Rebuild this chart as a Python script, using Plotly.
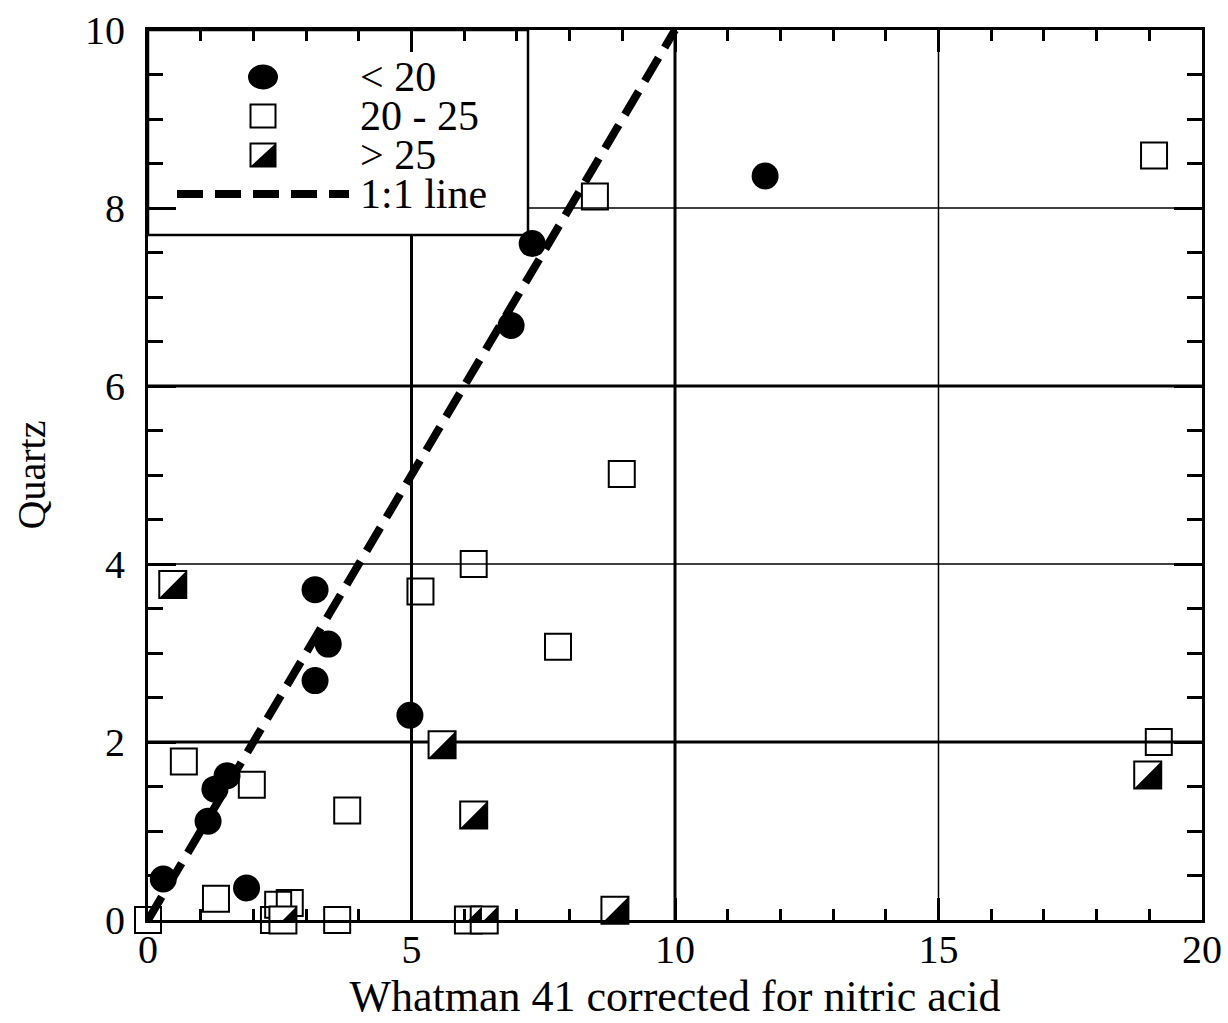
import plotly.graph_objects as go

# ---- data: Quartz vs. Whatman 41 (corrected for nitric acid) ----
lt20_x = [0.29, 1.14, 1.27, 1.50, 1.87, 3.17, 3.17, 3.42, 4.97, 6.89, 7.29, 11.71]
lt20_y = [0.46, 1.11, 1.47, 1.62, 0.36, 3.71, 2.69, 3.10, 2.30, 6.68, 7.60, 8.36]

mid_x = [0.00, 0.68, 1.29, 1.97, 2.39, 2.47, 2.69, 3.59, 3.78, 5.17, 6.18, 7.78, 8.48, 8.99, 19.09, 19.18]
mid_y = [0.00, 1.78, 0.24, 1.52, 0.00, 0.17, 0.19, 0.00, 1.23, 3.69, 4.00, 3.07, 8.13, 5.01, 8.59, 2.00]

gt25_x = [0.47, 2.56, 5.58, 6.08, 6.18, 6.38, 8.86, 18.97]
gt25_y = [3.77, 0.00, 1.97, 0.00, 1.18, 0.00, 0.11, 1.63]

one_to_one = [0, 10]

x_range = [0, 20]
y_range = [0, 10]
x_ticks = [0, 5, 10, 15, 20]
y_ticks = [0, 2, 4, 6, 8, 10]
x_grid = [5, 10, 15]
x_grid_w = [3, 3, 1.5]
y_grid = [2, 4, 6, 8]
y_grid_w = [3, 1.5, 3, 1.5]

legend_labels = ["&lt; 20", "20 - 25", "&gt; 25", "1:1 line"]

# ---- layout geometry ----
FONT = "Liberation Serif, Times New Roman, serif"
W, H = 1228, 1023
ML, MR, MT, MB = 148, 26, 30, 103
PW, PH = W - ML - MR, H - MT - MB


def fx(p):
    """pixel column -> paper x"""
    return (p - ML) / PW


def fy(p):
    """pixel row -> paper y"""
    return (H - MB - p) / PH


fig = go.Figure()

fig.add_trace(go.Scatter(
    x=lt20_x, y=lt20_y, mode="markers", name="< 20",
    marker=dict(symbol="circle", size=27, color="black", line=dict(width=0)),
    cliponaxis=False, showlegend=False))

fig.add_trace(go.Scatter(
    x=mid_x, y=mid_y, mode="markers", name="20 - 25",
    marker=dict(symbol="square-open", size=26, color="black", line=dict(width=2)),
    cliponaxis=False, showlegend=False))

fig.add_trace(go.Scatter(
    x=gt25_x, y=gt25_y, mode="markers", name="> 25",
    marker=dict(symbol="square", size=27, color="white",
                line=dict(width=2, color="black")),
    cliponaxis=False, showlegend=False))

fig.add_trace(go.Scatter(
    x=one_to_one, y=one_to_one, mode="lines", name="1:1 line",
    line=dict(color="black", width=8, dash="27px,12px"),
    cliponaxis=False, showlegend=False))

shapes = []
# grid lines at the major ticks
for v, w in zip(x_grid, x_grid_w):
    shapes.append(dict(type="line", xref="x", yref="paper", x0=v, x1=v, y0=0, y1=1,
                       line=dict(color="black", width=w), layer="between"))
for v, w in zip(y_grid, y_grid_w):
    shapes.append(dict(type="line", xref="paper", yref="y", x0=0, x1=1, y0=v, y1=v,
                       line=dict(color="black", width=w), layer="between"))

# lower-right black half of the "> 25" squares
HS = 13.5
tri = f"M {-HS} {-HS} L {HS} {-HS} L {HS} {HS} Z"
for x, y in zip(gt25_x, gt25_y):
    shapes.append(dict(type="path", xref="x", yref="y", xsizemode="pixel", ysizemode="pixel",
                       xanchor=x, yanchor=y, path=tri, fillcolor="black",
                       line=dict(width=0), layer="above"))

# legend box
shapes.append(dict(type="rect", xref="paper", yref="paper",
                   x0=fx(148), x1=fx(528), y0=fy(235), y1=fy(30),
                   fillcolor="white", line=dict(color="black", width=2.5), layer="between"))

sym_x = fx(263)
rows = [77, 116, 155, 194]
# circle
shapes.append(dict(type="circle", xref="paper", yref="paper", xsizemode="pixel", ysizemode="pixel",
                   xanchor=sym_x, yanchor=fy(rows[0]), x0=-15, x1=15, y0=-12.5, y1=12.5,
                   fillcolor="black", line=dict(width=0), layer="above"))
# open square
shapes.append(dict(type="rect", xref="paper", yref="paper", xsizemode="pixel", ysizemode="pixel",
                   xanchor=sym_x, yanchor=fy(rows[1]), x0=-12.5, x1=12.5, y0=-11.5, y1=11.5,
                   fillcolor="rgba(0,0,0,0)", line=dict(width=2, color="black"), layer="above"))
# half-filled square
shapes.append(dict(type="rect", xref="paper", yref="paper", xsizemode="pixel", ysizemode="pixel",
                   xanchor=sym_x, yanchor=fy(rows[2]), x0=-12.5, x1=12.5, y0=-11.5, y1=11.5,
                   fillcolor="white", line=dict(width=2, color="black"), layer="above"))
shapes.append(dict(type="path", xref="paper", yref="paper", xsizemode="pixel", ysizemode="pixel",
                   xanchor=sym_x, yanchor=fy(rows[2]), path="M -12.5 -11.5 L 12.5 -11.5 L 12.5 11.5 Z",
                   fillcolor="black", line=dict(width=0), layer="above"))
# dashed line sample
shapes.append(dict(type="line", xref="paper", yref="paper",
                   x0=fx(177), x1=fx(349), y0=fy(rows[3]), y1=fy(rows[3]),
                   line=dict(color="black", width=8, dash="26px,12px"), layer="above"))

annotations = []
for lab, r in zip(legend_labels, rows):
    annotations.append(dict(text=lab, xref="paper", yref="paper", x=fx(358), y=fy(r),
                            xanchor="left", yanchor="middle", showarrow=False,
                            font=dict(family=FONT, size=42, color="black")))

axis_common = dict(
    showline=True, linewidth=3, linecolor="black", mirror="allticks",
    ticks="inside", tickwidth=3, tickcolor="black",
    showgrid=False, zeroline=False,
    tickfont=dict(family=FONT, size=40, color="black"),
)

fig.update_xaxes(range=x_range, tickvals=x_ticks, ticklen=22, ticklabelstandoff=-8,
                 minor=dict(dtick=1, ticklen=11, tickwidth=3, tickcolor="black", ticks="inside"),
                 title=dict(text="Whatman 41 corrected for nitric acid",
                            font=dict(family=FONT, size=44, color="black"), standoff=8),
                 **axis_common)
fig.update_yaxes(range=y_range, tickvals=y_ticks, ticklen=28,
                 minor=dict(dtick=0.5, ticklen=15, tickwidth=3, tickcolor="black", ticks="inside"),
                 ticklabelstandoff=12,
                 title=dict(text="Quartz", font=dict(family=FONT, size=40, color="black"),
                            standoff=28),
                 **axis_common)

fig.update_layout(
    width=W, height=H,
    margin=dict(l=ML, r=MR, t=MT, b=MB, autoexpand=False),
    paper_bgcolor="white", plot_bgcolor="white",
    shapes=shapes, annotations=annotations,
    showlegend=False,
)

fig.write_html("out.html")
